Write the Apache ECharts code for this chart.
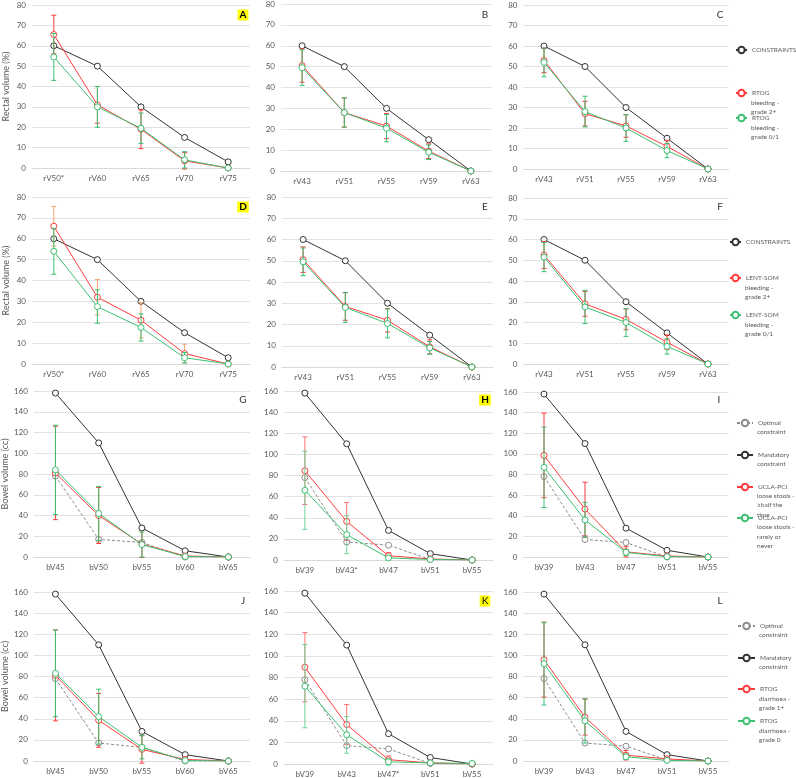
<!DOCTYPE html>
<html><head><meta charset="utf-8">
<script src="https://cdn.jsdelivr.net/npm/echarts@6/dist/echarts.min.js"></script>
<style>html,body{margin:0;padding:0;background:#fff}#c{width:796px;height:778px}</style>
</head><body><div id="c"></div>
<script>
// ---------- categories ----------
const catsRectA = ['rV50*','rV60','rV65','rV70','rV75'];
const catsRectB = ['rV43','rV51','rV55','rV59','rV63'];
const catsBowelG = ['bV45','bV50','bV55','bV60','bV65'];
const catsBowelH = ['bV39','bV43*','bV47','bV51','bV55'];
const catsBowelI = ['bV39','bV43','bV47','bV51','bV55'];
const catsBowelK = ['bV39','bV43','bV47*','bV51','bV55'];

// ---------- rectal panels (A-F) ----------
const constraintsA = [60,50,30,15,3];
const constraintsB = [60,50,30,15,0];
const redA = [65.5,31,19,3.5,0];     const redErrA = [9.5,9,9.5,4,0];
const greenA = [54.5,30,19.5,4,0];   const greenErrA = [11.5,10,7.5,4,0];
const redB = [50.5,28,21.5,9.5,0];   const redErrB = [8,7,6,3.5,0];
const greenB = [49.5,28,20.5,9,0];   const greenErrB = [8.5,7,6.5,3.5,0];
const redC = [53,27,21,11,0];        const redErrC = [6,6,5.5,3,0];
const greenC = [52,28,20,9,0];       const greenErrC = [7,7.5,6.5,3.5,0];
const redD = [66,32,21,5,0];         const redErrD = [9.5,8.5,8.5,4.5,0];
const greenD = [54,27.5,17.5,3,0];   const greenErrD = [11,8,6.5,2.5,0];
const redE = [50.5,28.5,22,9.5,0];   const redErrE = [6,6.5,5.5,3.3,0];
const greenE = [49.5,28,20.5,9,0];   const greenErrE = [6.5,7,6.8,3,0];
const redF = [52.5,29,21.5,10.5,0];  const redErrF = [6.5,6,5,3.5,0];
const greenF = [51.5,27.5,20,8.5,0]; const greenErrF = [7,8,6.7,3.7,0];

// ---------- bowel panels (G-L) ----------
const optimalG = [78,17,14,0,0];     const mandatoryG = [158,110,28,6,0];
const optimalH = [78,17,14,0.5,0];   const mandatoryH = [158,110,28,6,0];
const optimalI = [78,17,14,0,0];     const mandatoryI = [158,110,28,6.5,0];
const optimalJ = [78,17,13,0,0];     const mandatoryJ = [158,110,28,6,0];
const optimalK = [78,17,14,0.5,0];   const mandatoryK = [158,110,28,6,0];
const optimalL = [78,17,14,1,0];     const mandatoryL = [158,110,28,6,0];
const redG = [81,40,12.5,1,0];       const redErrG = [45,27,13,2,0];
const greenG = [84,42,12,0.5,0];     const greenErrG = [43,26,12,0,0];
const redH = [84.5,36.5,4,1,0];      const redErrH = [32,18,3,0,0];
const greenH = [66,24,2,0.5,0];      const greenErrH = [37,18,2,0,0];
const redI = [98.5,46.5,5,1,0];      const redErrI = [41,26,5,0,0];
const greenI = [87,36,4.5,0.3,0];    const greenErrI = [39,17,3,0,0];
const redJ = [81,38.5,11,1.5,0];     const redErrJ = [43,25.5,13,1.5,0];
const greenJ = [83,42,13,0.5,0];     const greenErrJ = [41,26,11,0,0];
const redK = [89.5,36.5,4,1,0];      const redErrK = [32,18.5,3.5,0,0];
const greenK = [72,27,2,1,0.5];      const greenErrK = [38.5,17,3,0,0];
const redL = [96,41.5,5.5,2,0];      const redErrL = [35.5,17,4.5,0,0];
const greenL = [92,38,4,0.6,0];      const greenErrL = [39,21,2.5,0,0];

// ---------- series names / legend texts ----------
const nCons = 'CONSTRAINTS';
const nRtogR = 'RTOG bleeding - grade 2+', nRtogG = 'RTOG bleeding - grade 0/1';
const nLentR = 'LENT-SOM bleeding - grade 2+', nLentG = 'LENT-SOM bleeding - grade 0/1';
const nOpt = 'Optimal constraint', nMand = 'Mandatory constraint';
const nUclaR = 'UCLA-PCI loose stools - ≥half the time', nUclaG = 'UCLA-PCI loose stools - rarely or never';
const nDiaR = 'RTOG diarrhoea - grade 1+', nDiaG = 'RTOG diarrhoea - grade 0';
const legendLines = {};
legendLines[nCons] = ['CONSTRAINTS'];
legendLines[nRtogR] = ['RTOG','bleeding -','grade 2+'];
legendLines[nRtogG] = ['RTOG','bleeding -','grade 0/1'];
legendLines[nLentR] = ['LENT-SOM','bleeding -','grade 2+'];
legendLines[nLentG] = ['LENT-SOM','bleeding -','grade 0/1'];
legendLines[nOpt] = ['Optimal','constraint'];
legendLines[nMand] = ['Mandatory','constraint'];
legendLines[nUclaR] = ['UCLA-PCI','loose stools -','≥half the','time'];
legendLines[nUclaG] = ['UCLA-PCI','loose stools -','rarely or','never'];
legendLines[nDiaR] = ['RTOG','diarrhoea -','grade 1+'];
legendLines[nDiaG] = ['RTOG','diarrhoea -','grade 0'];

// ---------- styles ----------
const RED = '#ff3c3c', GREEN = '#3cc072', BLACK = '#333333', GREY = '#8c8c8c';
const FONT = 'Lato';
const TXT = '#595959';

const rectY = {max:80, step:10, name:'Rectal volume (%)'};
const bowelY = {max:160, step:20, name:'Bowel volume (cc)'};

const panels = [
 {L:'A', hl:true, bold:true, lp:[243,15], pos:[32,5,218,163], cats:catsRectA, y:rectY, yName:true,
  lines:[[nCons, constraintsA]], red:[nRtogR, redA, redErrA, RED], green:[nRtogG, greenA, greenErrA, GREEN]},
 {L:'B', lp:[485,15], pos:[281,4,211,167], cats:catsRectB, y:rectY,
  lines:[[nCons, constraintsB]], red:[nRtogR, redB, redErrB, RED], green:[nRtogG, greenB, greenErrB, GREEN]},
 {L:'C', lp:[720,15], pos:[523.5,5,205,164], cats:catsRectB, y:rectY,
  lines:[[nCons, constraintsB]], red:[nRtogR, redC, redErrC, RED], green:[nRtogG, greenC, greenErrC, GREEN]},
 {L:'D', hl:true, bold:true, lp:[243,207], pos:[32,197,218,167], cats:catsRectA, y:rectY, yName:true,
  lines:[[nCons, constraintsA]], red:[nLentR, redD, redErrD, '#f5a36c'], green:[nLentG, greenD, greenErrD, GREEN]},
 {L:'E', lp:[485,207], pos:[282,197,211,170], cats:catsRectB, y:rectY,
  lines:[[nCons, constraintsB]], red:[nLentR, redE, redErrE, RED], green:[nLentG, greenE, greenErrE, GREEN]},
 {L:'F', lp:[720,207], pos:[523.5,198,205,166], cats:catsRectB, y:rectY,
  lines:[[nCons, constraintsB]], red:[nLentR, redF, redErrF, RED], green:[nLentG, greenF, greenErrF, GREEN]},
 {L:'G', lp:[243,400], pos:[32,391,218,166], cats:catsBowelG, y:bowelY, yName:true,
  lines:[[nOpt, optimalG, true],[nMand, mandatoryG]], red:[nUclaR, redG, redErrG, RED], green:[nUclaG, greenG, greenErrG, GREEN]},
 {L:'H', hl:true, bold:true, lp:[485,400], pos:[284,391,209,169], cats:catsBowelH, y:bowelY,
  lines:[[nOpt, optimalH, true],[nMand, mandatoryH]], red:[nUclaR, redH, redErrH, '#ff6e6e'], green:[nUclaG, greenH, greenErrH, '#6fd39a']},
 {L:'I', lp:[719,400], pos:[523.5,392,205,165], cats:catsBowelI, y:bowelY,
  lines:[[nOpt, optimalI, true],[nMand, mandatoryI]], red:[nUclaR, redI, redErrI, RED], green:[nUclaG, greenI, greenErrI, GREEN]},
 {L:'J', lp:[243,601], pos:[32,592,218,169], cats:catsBowelG, y:bowelY, yName:true,
  lines:[[nOpt, optimalJ, true],[nMand, mandatoryJ]], red:[nDiaR, redJ, redErrJ, RED], green:[nDiaG, greenJ, greenErrJ, GREEN]},
 {L:'K', hl:true, lp:[485,601], pos:[284,591,209,173], cats:catsBowelK, y:bowelY,
  lines:[[nOpt, optimalK, true],[nMand, mandatoryK]], red:[nDiaR, redK, redErrK, '#ff7272'], green:[nDiaG, greenK, greenErrK, '#6fd39a']},
 {L:'L', lp:[720,601], pos:[523.5,592,205,169], cats:catsBowelI, y:bowelY,
  lines:[[nOpt, optimalL, true],[nMand, mandatoryL]], red:[nDiaR, redL, redErrL, RED], green:[nDiaG, greenL, greenErrL, GREEN]}
];

// legend item placements: [name, iconLeft, firstLineCenterY, itemWidth, lineSpacing]
const legendPlacements = [
 [nCons, 735, 50, 11, 9.5], [nRtogR, 735, 93, 11, 9.5], [nRtogG, 735, 118, 11, 9.5],
 [nCons, 729, 242, 11, 9.5], [nLentR, 729, 278, 11, 9.5], [nLentG, 729, 315, 11, 9.5],
 [nOpt, 736, 423, 16, 9.2], [nMand, 736, 455, 16, 9.2], [nUclaR, 736, 487, 16, 9.2], [nUclaG, 736, 518, 16, 9.4],
 [nOpt, 737, 626, 17, 9.4], [nMand, 737, 658, 17, 9.4], [nDiaR, 737, 689, 17, 9.5], [nDiaG, 737, 721, 17, 9.5]
];

function errSeries(i, vals, errs, color, z) {
  return {
    type:'custom', xAxisIndex:i, yAxisIndex:i, z:z, silent:true, clip:false,
    data: vals.map((v,j)=>[j, v, errs[j]]),
    renderItem: function(params, api){
      const x = api.value(0), v = api.value(1), e = api.value(2);
      if (!e) return null;
      const t = api.coord([x, v + e]);
      const b = api.coord([x, v - e]);
      const cap = 2.5;
      const st = {stroke: color, lineWidth: 1, fill: null};
      return {type:'group', children:[
        {type:'line', shape:{x1:t[0], y1:t[1], x2:b[0], y2:b[1]}, style:st},
        {type:'line', shape:{x1:t[0]-cap, y1:t[1], x2:t[0]+cap, y2:t[1]}, style:st},
        {type:'line', shape:{x1:b[0]-cap, y1:b[1], x2:b[0]+cap, y2:b[1]}, style:st}
      ]};
    }
  };
}

function lineSeries(i, name, data, color, dashed, z) {
  return {
    type:'line', name:name, xAxisIndex:i, yAxisIndex:i, data:data, z:z,
    symbol:'circle', symbolSize:6, showSymbol:true,
    lineStyle:{color:color, width:1, type: dashed ? [3,2] : 'solid'},
    itemStyle:{color:'#ffffff', borderColor:color, borderWidth:1},
    emphasis:{disabled:true}
  };
}

const grid = [], xAxis = [], yAxis = [], series = [], graphic = [];
panels.forEach((p,i)=>{
  grid.push({left:p.pos[0], top:p.pos[1], width:p.pos[2], height:p.pos[3]});
  xAxis.push({type:'category', gridIndex:i, data:p.cats, boundaryGap:true,
    axisTick:{show:false}, axisLine:{lineStyle:{color:'#d9d9d9', width:1}},
    axisLabel:{color:TXT, fontSize:8, fontFamily:FONT, margin:6, interval:0}});
  yAxis.push({type:'value', gridIndex:i, min:0, max:p.y.max, interval:p.y.step,
    axisLine:{show:false}, axisTick:{show:false},
    splitLine:{lineStyle:{color:'#e2e2e2', width:1}},
    axisLabel:{color:TXT, fontSize:8, fontFamily:FONT, margin:6},
    name: p.yName ? p.y.name : '', nameLocation:'middle', nameGap:21,
    nameTextStyle:{color:TXT, fontSize:9, fontFamily:FONT}});
  p.lines.forEach((l,k)=>{
    series.push(lineSeries(i, l[0], l[1], l[2] ? GREY : BLACK, !!l[2], 3+k));
  });
  series.push(errSeries(i, p.red[1], p.red[2], p.red[3], 4));
  series.push(lineSeries(i, p.red[0], p.red[1], RED, false, 5));
  series.push(errSeries(i, p.green[1], p.green[2], p.green[3], 6));
  series.push(lineSeries(i, p.green[0], p.green[1], GREEN, false, 7));
  graphic.push({type:'text', x:p.lp[0], y:p.lp[1], z:100,
    style:{text:p.L, fill: p.hl ? '#000' : '#333', font:(p.bold?'bold ':'')+'10px '+FONT,
      align:'center', verticalAlign:'middle',
      backgroundColor: p.hl ? '#ffff00' : 'transparent', padding:[1,2,0,2]}});
});

const LFS = 6.5, IH = 8;
const legend = legendPlacements.map(lp=>{
  const lines = legendLines[lp[0]];
  // continuation lines of the legend label
  lines.slice(1).forEach((t,k)=>{
    graphic.push({type:'text', x: lp[1] + lp[3] + 5, y: lp[2] + (k+1)*lp[4], z:100,
      style:{text:t, fill:TXT, font: LFS+'px '+FONT, align:'left', verticalAlign:'middle'}});
  });
  return {
    left: lp[1], top: lp[2] - 4.5, orient:'vertical', padding:0,
    itemWidth: lp[3], itemHeight: IH, itemGap:0, selectedMode:false,
    data:[lp[0]],
    formatter: ()=>lines[0],
    textStyle:{color:TXT, fontSize:LFS, fontFamily:FONT, lineHeight:9}
  };
});

const chart = echarts.init(document.getElementById('c'), null, {renderer:'canvas'});
chart.setOption({
  animation:false, backgroundColor:'#fff',
  grid, xAxis, yAxis, series, legend, graphic,
  tooltip:{show:false}
});
</script></body></html>
